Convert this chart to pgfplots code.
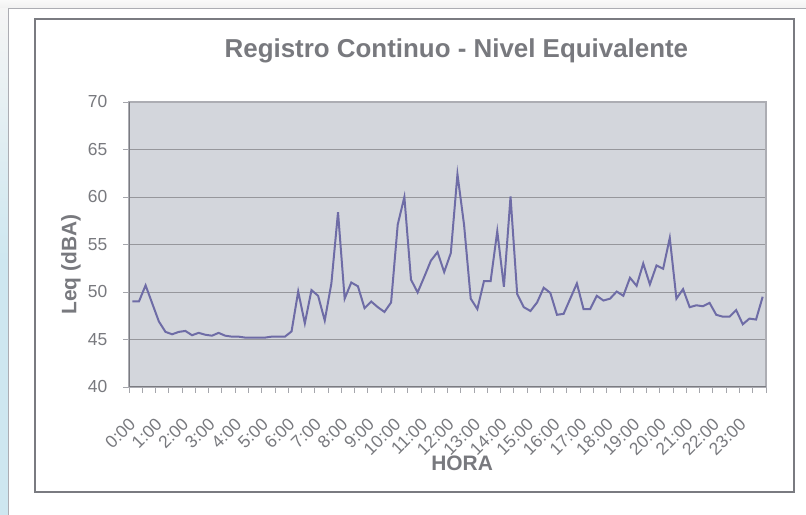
\documentclass[border=0pt]{standalone}
\usepackage{pgfplots}
\pgfplotsset{compat=1.18}
\usepackage{fontspec}
\setmainfont{Liberation Sans}
\pgfdeclarelayer{background}
\pgfsetlayers{background,main}
\definecolor{txt}{RGB}{120,121,126}
\definecolor{plotbg}{RGB}{211,214,220}
\definecolor{gridc}{RGB}{150,151,156}
\definecolor{linec}{RGB}{110,108,166}
\definecolor{axisc}{RGB}{122,123,129}
\definecolor{tickc}{RGB}{165,166,172}
\definecolor{framec}{RGB}{172,173,179}
\definecolor{leftblue}{RGB}{206,231,240}
\begin{document}
\begin{tikzpicture}[x=1bp,y=1bp]
\begin{axis}[
  scale only axis, width=637bp, height=285bp,
  xmin=-0.5, xmax=95.5, ymin=40, ymax=70,
  ytick={40,45,...,70},
  xtick={-0.5,1.5,...,95.5}, xticklabels={},
  xtick pos=lower, ytick pos=left,
  extra x ticks={0,4,...,92},
  extra x tick labels={0:00,1:00,2:00,3:00,4:00,5:00,6:00,7:00,8:00,9:00,10:00,11:00,12:00,13:00,14:00,15:00,16:00,17:00,18:00,19:00,20:00,21:00,22:00,23:00},
  extra x tick style={major tick length=0pt, grid=none},
  ymajorgrids, grid style={gridc, line width=0.9bp},
  tick align=outside, major tick length=6bp,
  tick style={tickc, line width=0.9bp},
  axis background/.style={fill=plotbg},
  axis line style={framec, line width=1.2bp},
  /pgf/number format/assume math mode=true,
  ticklabel style={font=\fontsize{17.5}{20}\selectfont, text=txt},
  yticklabel style={anchor=east, inner sep=0pt, xshift=-15.5bp},
  xticklabel style={inner sep=0pt, anchor=east, rotate=45},
  xticklabel shift=34bp,
  title={Registro Continuo - Nivel Equivalente},
  title style={at={(axis description cs:0.514,1.159)}, anchor=center, font=\bfseries\fontsize{26}{29}\selectfont, text=txt},
  ylabel={Leq (dBA)},
  ylabel style={at={(axis description cs:-0.091,0.43)}, anchor=center, font=\bfseries\fontsize{21}{24}\selectfont, text=txt},
  xlabel={HORA},
  xlabel style={at={(axis description cs:0.523,-0.268)}, anchor=center, font=\bfseries\fontsize{21}{24}\selectfont, text=txt},
]
\addplot[linec, line width=2bp, mark=none] table {
x y
0 49.0
1 49.0
2 50.7
3 48.8
4 46.9
5 45.8
6 45.55
7 45.8
8 45.9
9 45.45
10 45.7
11 45.5
12 45.4
13 45.7
14 45.4
15 45.3
16 45.3
17 45.2
18 45.2
19 45.2
20 45.2
21 45.3
22 45.3
23 45.3
24 45.85
25 50.05
26 46.7
27 50.2
28 49.6
29 47.0
30 50.9
31 58.4
32 49.3
33 51.0
34 50.6
35 48.3
36 49.0
37 48.4
38 47.9
39 48.9
40 57.1
41 60.0
42 51.3
43 49.95
44 51.6
45 53.3
46 54.2
47 52.1
48 54.1
49 62.4
50 57.05
51 49.3
52 48.2
53 51.15
54 51.15
55 56.4
56 50.55
57 60.05
58 49.8
59 48.4
60 48.0
61 48.9
62 50.45
63 49.9
64 47.6
65 47.7
66 49.3
67 50.9
68 48.2
69 48.2
70 49.6
71 49.1
72 49.3
73 50.05
74 49.6
75 51.5
76 50.65
77 53.0
78 50.8
79 52.8
80 52.45
81 55.7
82 49.3
83 50.3
84 48.4
85 48.6
86 48.5
87 48.85
88 47.6
89 47.4
90 47.4
91 48.1
92 46.6
93 47.2
94 47.1
95 49.5
};
\draw[axisc, line width=1.4bp] (rel axis cs:0,1) -- (rel axis cs:0,0) -- (rel axis cs:1,0);
\coordinate (pa) at (rel axis cs:0,0);
\end{axis}
\begin{pgfonlayer}{background}
\begin{scope}[shift={(pa)}, xshift=-129bp, yshift=-128bp]
\useasboundingbox (0,0) rectangle (806,515);
\fill[white] (0,0) rectangle (806,515);
\shade[top color=white!95!gray, bottom color=white!88!gray] (0,506) rectangle (806,515);
\shade[top color=white!92!gray, bottom color=leftblue, middle color=leftblue] (0,0) rectangle (8.3,506);
\draw[framec, line width=1bp] (8.3,0) -- (8.3,506) -- (806,506);
\draw[axisc, line width=1.2bp] (35,23) rectangle (794,496);
\end{scope}
\end{pgfonlayer}
\end{tikzpicture}
\end{document}
